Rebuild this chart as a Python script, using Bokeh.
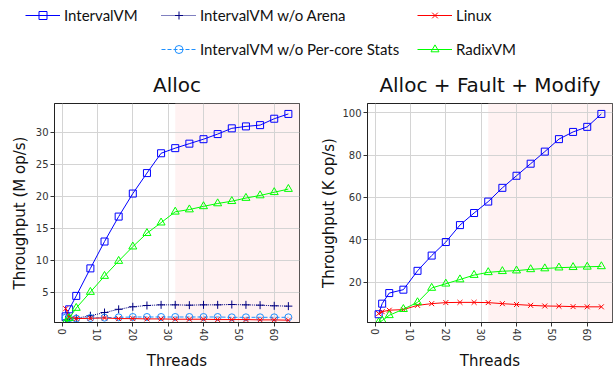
from bokeh.plotting import figure
from bokeh.layouts import column, row
from bokeh.models import Range1d, FixedTicker, BoxAnnotation, Legend, LegendItem
from bokeh.embed import file_html
from bokeh.resources import INLINE

# ---------------- data ----------------
THREADS = [1, 2, 4, 8, 12, 16, 20, 24, 28, 32, 36, 40, 44, 48, 52, 56, 60, 64]

ALLOC_INTERVALVM = [1.2, 2.3, 4.4, 8.7, 12.9, 16.8, 20.4, 23.6, 26.7, 27.5, 28.2, 28.9, 29.7, 30.6, 30.9, 31.1, 32.1, 32.85]
ALLOC_WO_ARENA = [0.6, 0.8, 0.9, 1.3, 1.8, 2.3, 2.7, 2.9, 3.0, 3.0, 2.95, 3.0, 3.0, 3.05, 3.0, 2.95, 2.85, 2.8]
ALLOC_WO_PERCORE = [1.0, 0.9, 0.85, 0.95, 1.0, 1.05, 1.1, 1.1, 1.1, 1.1, 1.1, 1.1, 1.1, 1.05, 1.05, 1.05, 1.05, 1.05]
ALLOC_LINUX = [2.4, 1.1, 0.85, 0.9, 0.95, 0.85, 0.85, 0.8, 0.8, 0.75, 0.75, 0.75, 0.7, 0.7, 0.7, 0.65, 0.65, 0.6]
ALLOC_RADIXVM = [0.24, 0.9, 2.5, 5.0, 7.5, 9.85, 12.1, 14.2, 15.85, 17.55, 17.9, 18.4, 18.85, 19.2, 19.7, 20.1, 20.6, 21.1]

AFM_INTERVALVM = [4.8, 9.8, 14.8, 16.4, 25.3, 32.5, 38.9, 46.9, 52.6, 58.0, 64.5, 70.2, 75.9, 81.6, 87.5, 90.9, 93.3, 99.4]
AFM_LINUX = [5.1, 6.0, 6.7, 7.0, 9.0, 9.8, 10.3, 10.4, 10.4, 10.3, 9.8, 9.4, 9.0, 8.7, 8.6, 8.4, 8.3, 8.3]
AFM_RADIXVM = [0.9, 1.8, 4.3, 7.2, 10.4, 17.2, 19.2, 21.2, 23.3, 24.6, 25.1, 25.4, 26.0, 26.4, 26.8, 27.0, 27.2, 27.4]

X_TICKS = [0, 10, 20, 30, 40, 50, 60]
ALLOC_Y_TICKS = [5, 10, 15, 20, 25, 30]
AFM_Y_TICKS = [20, 40, 60, 80, 100]
SHADE_START = 32

SERIES_NAMES = ["IntervalVM", "IntervalVM w/o Arena", "IntervalVM w/o Per-core Stats", "Linux", "RadixVM"]

STYLE = {
    "IntervalVM": dict(color="#0000ff", marker="square", dash="solid", size=7),
    "IntervalVM w/o Arena": dict(color="#000080", marker="cross", dash="1 1", size=8),
    "IntervalVM w/o Per-core Stats": dict(color="#1e90ff", marker="circle", dash="4 2", size=7),
    "Linux": dict(color="#ff0000", marker="x", dash="solid", size=7),
    "RadixVM": dict(color="#00ff00", marker="triangle", dash="solid", size=8),
}

FONT = "DejaVu Sans"


def draw_series(p, name, xs, ys):
    st = STYLE[name]
    lr = p.line(xs, ys, line_color=st["color"], line_width=1, line_dash=st["dash"])
    sr = p.scatter(xs, ys, marker=st["marker"], size=st["size"], line_color=st["color"],
                   fill_color=None, line_width=1)
    return lr, sr


def make_plot(title, ylabel, series, yticks, width, mb_left, mb_right, label_standoff):
    all_vals = [v for _, vals in series for v in vals]
    ymin, ymax = min(all_vals), max(all_vals)
    xmin, xmax = min(THREADS), max(THREADS)
    xpad = 0.05 * (xmax - xmin)
    p = figure(width=width, height=313, output_backend="svg", toolbar_location=None,
               x_range=Range1d(xmin - xpad, xmax + xpad),
               y_range=Range1d(ymin, ymax + 0.05 * (ymax - ymin)),
               min_border_left=mb_left, min_border_right=mb_right,
               min_border_top=43, min_border_bottom=49)
    p.title.text = title
    p.title.align = "center"
    p.title.text_font = FONT
    p.title.text_font_size = "20px"
    p.title.text_font_style = "normal"
    p.title.text_color = "#111111"
    p.title.standoff = 14

    p.add_layout(BoxAnnotation(left=SHADE_START, fill_color="#fff2f2", fill_alpha=1.0,
                               line_color=None, level="image"))

    p.xaxis.ticker = FixedTicker(ticks=X_TICKS)
    p.yaxis.ticker = FixedTicker(ticks=yticks)
    p.xaxis.major_label_orientation = "vertical"
    p.xaxis.axis_label = "Threads"
    p.yaxis.axis_label = ylabel
    p.yaxis.axis_label_standoff = label_standoff
    p.xaxis.axis_label_standoff = 8
    p.xaxis.axis_label_text_line_height = 0.8
    for ax in p.axis:
        ax.axis_label_text_font = FONT
        ax.axis_label_text_font_size = "15px"
        ax.axis_label_text_font_style = "normal"
        ax.axis_label_text_color = "#111111"
        ax.major_label_text_font = FONT
        ax.major_label_text_font_size = "10px"
        ax.major_label_text_color = "#333333"
        ax.major_label_standoff = 2
        ax.major_tick_out = 4
        ax.major_tick_in = 0
        ax.minor_tick_line_color = None
        ax.axis_line_color = "#222222"
        ax.major_tick_line_color = "#333333"
    p.grid.grid_line_color = "#d4d4d4"
    p.grid.grid_line_width = 1
    p.outline_line_color = "#222222"
    p.outline_line_alpha = 1.0
    p.outline_line_width = 1

    for name, vals in series:
        draw_series(p, name, THREADS, vals)
    return p


left = make_plot("Alloc", "Throughput (M op/s)",
                 [("IntervalVM", ALLOC_INTERVALVM), ("IntervalVM w/o Arena", ALLOC_WO_ARENA),
                  ("IntervalVM w/o Per-core Stats", ALLOC_WO_PERCORE), ("Linux", ALLOC_LINUX),
                  ("RadixVM", ALLOC_RADIXVM)],
                 ALLOC_Y_TICKS, width=310, mb_left=54, mb_right=11, label_standoff=4)

right = make_plot("Alloc + Fault + Modify", "Throughput (K op/s)",
                  [("IntervalVM", AFM_INTERVALVM), ("Linux", AFM_LINUX), ("RadixVM", AFM_RADIXVM)],
                  AFM_Y_TICKS, width=303, mb_left=57, mb_right=1, label_standoff=1)

# ---------------- legend strip ----------------
leg = figure(width=613, height=60, output_backend="svg", toolbar_location=None,
             x_range=Range1d(-20, -19), y_range=Range1d(0, 1),
             x_axis_type=None, y_axis_type=None, min_border=0)
leg.outline_line_color = None
leg.grid.visible = False

legend_series = {
    "IntervalVM": ALLOC_INTERVALVM,
    "IntervalVM w/o Arena": ALLOC_WO_ARENA,
    "IntervalVM w/o Per-core Stats": ALLOC_WO_PERCORE,
    "Linux": ALLOC_LINUX,
    "RadixVM": ALLOC_RADIXVM,
}
LEGEND_SLOTS = {
    "IntervalVM": (25, 35),
    "IntervalVM w/o Arena": (161, 35),
    "Linux": (417, 35),
    "IntervalVM w/o Per-core Stats": (161, 1),
    "RadixVM": (417, 1),
}
for name in SERIES_NAMES:
    lr, sr = draw_series(leg, name, THREADS, legend_series[name])
    lg = Legend(items=[LegendItem(label=name, renderers=[lr, sr])], location=LEGEND_SLOTS[name],
                label_text_font="Lato", label_text_font_size="15px", label_text_color="#111111",
                glyph_width=35, glyph_height=20, label_standoff=4, label_height=17,
                padding=0, margin=0, spacing=0, border_line_color=None,
                background_fill_alpha=0)
    leg.add_layout(lg, "center")

layout = column(leg, row(left, right))
open("out.html", "w").write(file_html(layout, INLINE))
